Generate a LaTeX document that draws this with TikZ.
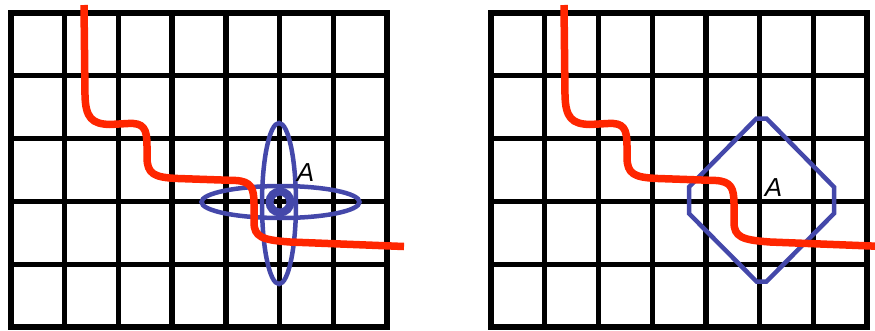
\documentclass[tikz,border=0pt]{standalone}
\usepackage{fontspec}
\setmainfont{Liberation Sans}
\definecolor{curvered}{RGB}{255,38,0}
\definecolor{shapeblue}{RGB}{68,72,170}
\tikzset{
  gridline/.style={line width=5.3pt, black},
  redcurve/.style={line width=7.5pt, curvered, line cap=butt, line join=round},
  blueline/.style={line width=4.5pt, shapeblue},
  labelA/.style={font=\fontsize{26}{26}\selectfont\itshape, inner sep=0pt, text=black}
}
\begin{document}
\begin{tikzpicture}[x=1pt,y=-1pt]
\useasboundingbox (0,0) rectangle (875,330);
\begin{scope}
\clip (0,0) rectangle (875,330);
% grids
\foreach \ox in {0,480}{
  \begin{scope}[shift={(\ox,0)}]
    \foreach \i in {1,...,6}{
      \draw[gridline] ({11+\i*53.714},13) -- ({11+\i*53.714},327);
    }
    \foreach \j in {1,...,4}{
      \draw[gridline] (11,{13+\j*62.8}) -- (387,{13+\j*62.8});
    }
    \draw[gridline, line join=miter] (11,13) rectangle (387,327);
  \end{scope}
}
% left blue shapes
\draw[blueline] (279,203.5) ellipse [x radius=17, y radius=80.5];
\draw[blueline] (280.5,202) ellipse [x radius=79, y radius=16];
\draw[blueline, line width=8pt] (280,202) circle [radius=10.5];
% right blue octagon
\draw[blueline, line join=miter] (756.5,118.5) -- (766.5,118.5) -- (834,187) -- (834,213.5) -- (766.5,281.5) -- (756.5,281.5) -- (689,213.5) -- (689,187) -- cycle;
% red curves
\foreach \ox in {0,480}{
  \draw[redcurve, shift={(\ox,0)}] (84,5) -- (85,95)
    .. controls (85.5,118) and (92,124) .. (110,124.5)
    -- (128,123.5)
    .. controls (144,122.5) and (147,129) .. (147,146)
    -- (147,157)
    .. controls (147,174) and (154,177.5) .. (178,178.5)
    -- (236,180.5)
    .. controls (251,181.5) and (254,188) .. (254,204)
    -- (254,222)
    .. controls (254,237) and (262,240) .. (290,242)
    -- (404,246.5);
}
\end{scope}
% labels
\node[labelA] (aleft) at (305.5,172.5) {A};
\node[labelA] (aright) at (773.5,187.5) {A};
\end{tikzpicture}
\end{document}
